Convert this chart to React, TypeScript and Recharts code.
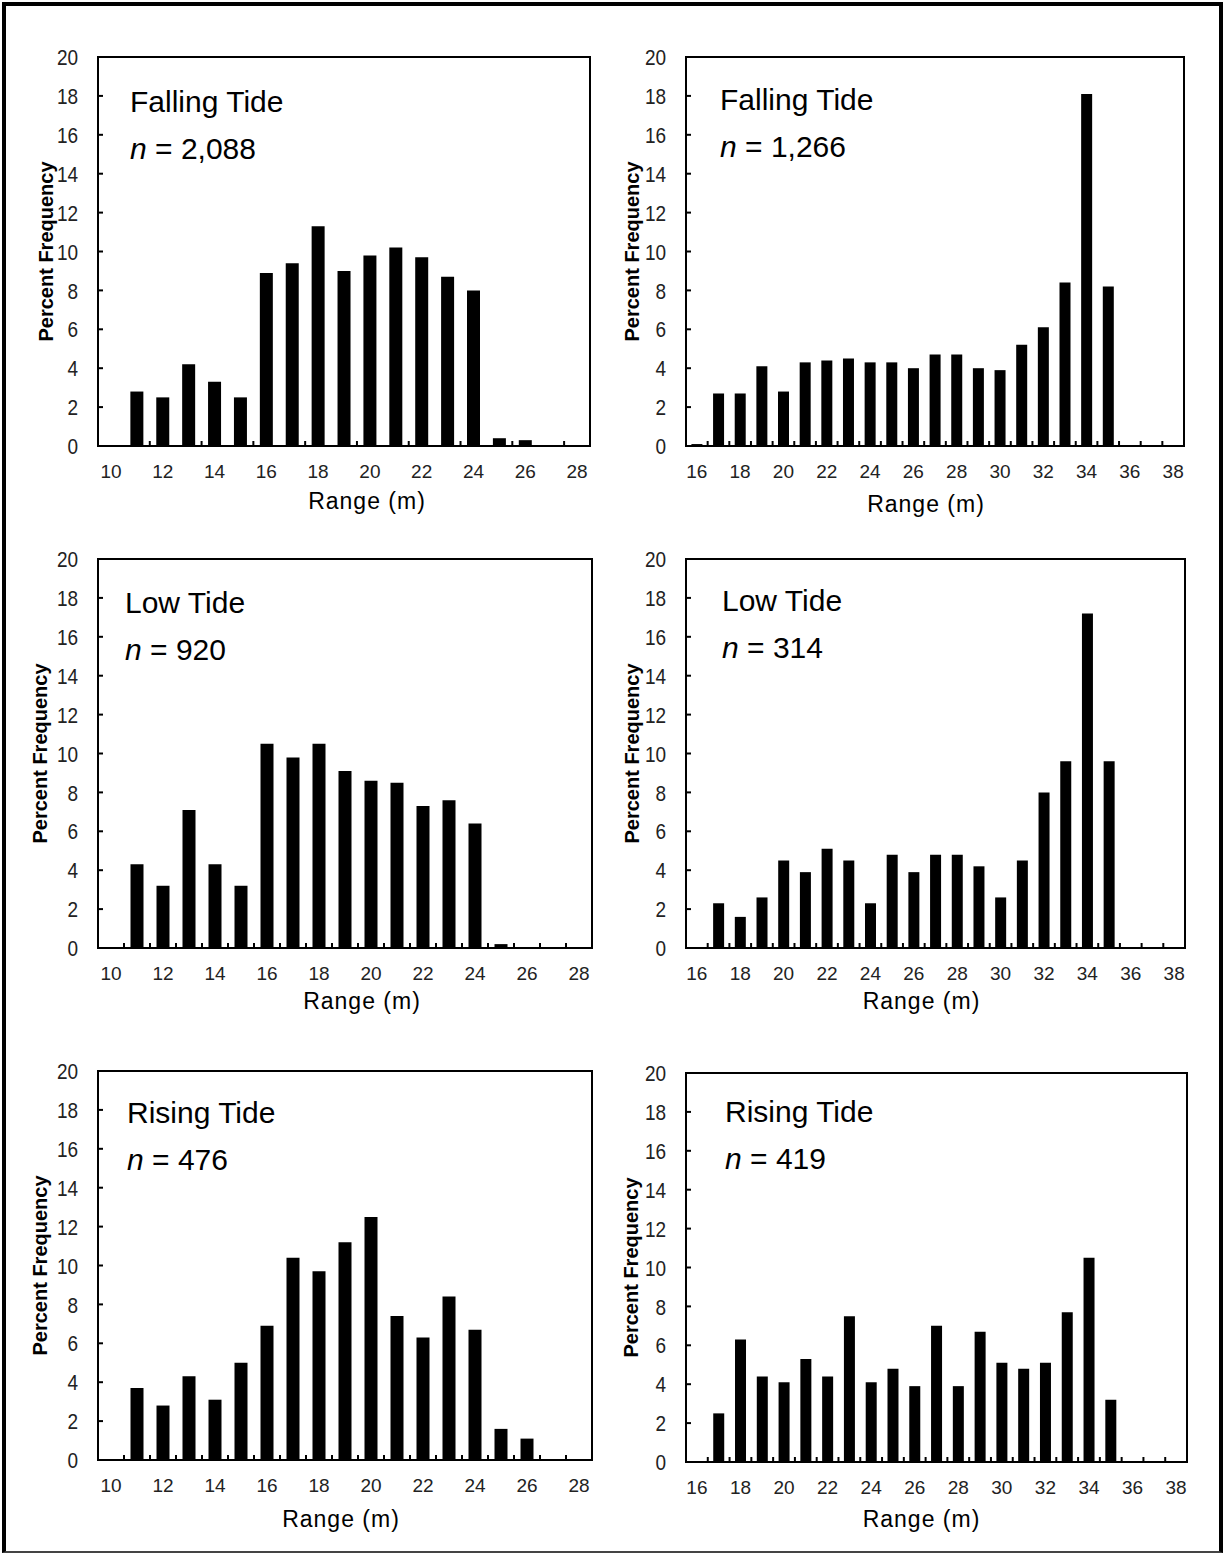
import { Bar, BarChart, ReferenceArea, XAxis, YAxis } from 'recharts';

const FONT = '"Liberation Sans", Arial, Helvetica, sans-serif';

// range bins (m) for the two sites
const nearBins = [10, 11, 12, 13, 14, 15, 16, 17, 18, 19, 20, 21, 22, 23, 24, 25, 26, 27, 28];
const farBins = [16, 17, 18, 19, 20, 21, 22, 23, 24, 25, 26, 27, 28, 29, 30, 31, 32, 33, 34, 35, 36, 37, 38];
const percentTicks = [0, 2, 4, 6, 8, 10, 12, 14, 16, 18, 20];

// percent frequency per bin
const fallingNear = [0, 2.8, 2.5, 4.2, 3.3, 2.5, 8.9, 9.4, 11.3, 9.0, 9.8, 10.2, 9.7, 8.7, 8.0, 0.4, 0.3, 0, 0];
const fallingFar = [0.1, 2.7, 2.7, 4.1, 2.8, 4.3, 4.4, 4.5, 4.3, 4.3, 4.0, 4.7, 4.7, 4.0, 3.9, 5.2, 6.1, 8.4, 18.1, 8.2, 0, 0, 0];
const lowNear = [0, 4.3, 3.2, 7.1, 4.3, 3.2, 10.5, 9.8, 10.5, 9.1, 8.6, 8.5, 7.3, 7.6, 6.4, 0.2, 0, 0, 0];
const lowFar = [0, 2.3, 1.6, 2.6, 4.5, 3.9, 5.1, 4.5, 2.3, 4.8, 3.9, 4.8, 4.8, 4.2, 2.6, 4.5, 8.0, 9.6, 17.2, 9.6, 0, 0, 0];
const risingNear = [0, 3.7, 2.8, 4.3, 3.1, 5.0, 6.9, 10.4, 9.7, 11.2, 12.5, 7.4, 6.3, 8.4, 6.7, 1.6, 1.1, 0, 0];
const risingFar = [0, 2.5, 6.3, 4.4, 4.1, 5.3, 4.4, 7.5, 4.1, 4.8, 3.9, 7.0, 3.9, 6.7, 5.1, 4.8, 5.1, 7.7, 10.5, 3.2, 0, 0, 0];

const PLOT_H = 389;
const MARGIN = { top: 12, right: 12, bottom: 0, left: 0 };
const X_AXIS_H = 80;

type PanelProps = {
  left: number;
  plotLeft: number;
  plotRight: number;
  plotTop: number;
  bins: number[];
  values: number[];
  tickStep: number;
  tide: string;
  count: string;
  textDx: number;
  textDy: number;
  yTitleGap: number;
  xTitleShift: number;
  xTitleDy: number;
};

function Panel(p: PanelProps) {
  const width = p.plotRight - p.left + MARGIN.right;
  const height = MARGIN.top + PLOT_H + X_AXIS_H;
  const data = p.bins.map((bin, i) => ({ bin, pct: p.values[i] }));
  const plotW = p.plotRight - p.plotLeft;
  const halfBand = plotW / p.bins.length / 2;
  const px = p.plotLeft - p.left;
  const py = MARGIN.top;

  // tick marks sit on bin edges and point into the plot; labels on even bins
  const renderXTick = (props: any) => {
    const { x, y, payload } = props;
    const value = Number(payload.value);
    const edge = x - halfBand;
    const mark = value > p.bins[0] && (value - p.bins[0]) % p.tickStep === 0;
    return (
      <g>
        {mark && <line x1={edge} x2={edge} y1={y} y2={y - 5} stroke="#000" strokeWidth={2} />}
        {value % 2 === 0 && (
          <text x={x} y={y + 25} textAnchor="middle" dominantBaseline="central" fontFamily={FONT} fontSize={19} fill="#222">
            {value}
          </text>
        )}
      </g>
    );
  };

  const renderYTick = (props: any) => {
    const { x, y, payload } = props;
    const value = Number(payload.value);
    return (
      <g>
        {value > 0 && value < 20 && <line x1={x} x2={x + 5} y1={y} y2={y} stroke="#000" strokeWidth={2} />}
        <text
          transform={`translate(${x - 20}, ${y}) scale(1, 1.2)`}
          textAnchor="end"
          dominantBaseline="central"
          fontFamily={FONT}
          fontSize={19}
          fill="#222"
        >
          {value}
        </text>
      </g>
    );
  };

  return (
    <div style={{ position: 'absolute', left: p.left, top: p.plotTop - MARGIN.top, width, height }}>
      <BarChart width={width} height={height} data={data} margin={MARGIN} barCategoryGap="25%">
        <XAxis
          dataKey="bin"
          interval={0}
          height={X_AXIS_H}
          tickSize={0}
          tickMargin={0}
          axisLine={false}
          tickLine={false}
          tick={renderXTick}
        />
        <YAxis
          type="number"
          domain={[0, 20]}
          ticks={percentTicks}
          allowDataOverflow
          width={px}
          tickSize={0}
          tickMargin={0}
          axisLine={false}
          tickLine={false}
          tick={renderYTick}
        />
        <ReferenceArea y1={0} y2={20} fill="none" fillOpacity={0} stroke="#000" strokeWidth={2} />
        <Bar dataKey="pct" fill="#000" isAnimationActive={false} />
      </BarChart>
      <svg
        width={width}
        height={height}
        style={{ position: 'absolute', left: 0, top: 0, overflow: 'visible', pointerEvents: 'none' }}
      >
        <text x={px + p.textDx} y={py + p.textDy} fontFamily={FONT} fontSize={30} fill="#000">
          {p.tide}
        </text>
        <text x={px + p.textDx} y={py + p.textDy + 47} fontFamily={FONT} fontSize={30} fill="#000">
          <tspan fontStyle="italic">n</tspan> = {p.count}
        </text>
        <text
          transform={`translate(${px - p.yTitleGap}, ${py + PLOT_H / 2}) rotate(-90)`}
          textAnchor="middle"
          dominantBaseline="central"
          fontFamily={FONT}
          fontSize={20}
          fontWeight="bold"
          fill="#000"
        >
          Percent Frequency
        </text>
        <text
          x={px + plotW / 2 + p.xTitleShift}
          y={py + PLOT_H + p.xTitleDy}
          textAnchor="middle"
          dominantBaseline="central"
          fontFamily={FONT}
          fontSize={23}
          letterSpacing={1}
          fill="#000"
        >
          Range (m)
        </text>
      </svg>
    </div>
  );
}

export default function App() {
  return (
    <div style={{ position: 'absolute', left: 0, top: 0, width: 1225, height: 1554, background: '#fff' }}>
      <div
        style={{
          position: 'absolute',
          left: 2,
          top: 2,
          width: 1221,
          height: 1551,
          boxSizing: 'border-box',
          borderLeft: '4px solid #000',
          borderTop: '4px solid #000',
          borderRight: '4px solid #000',
          borderBottom: '2px solid #444',
        }}
      />
      <Panel
        left={0} plotLeft={98} plotRight={590} plotTop={57}
        bins={nearBins} values={fallingNear} tickStep={2}
        tide="Falling Tide" count="2,088"
        textDx={32} textDy={55} yTitleGap={52} xTitleShift={23} xTitleDy={55}
      />
      <Panel
        left={600} plotLeft={686} plotRight={1184} plotTop={57}
        bins={farBins} values={fallingFar} tickStep={1}
        tide="Falling Tide" count="1,266"
        textDx={34} textDy={53} yTitleGap={54} xTitleShift={-9} xTitleDy={58}
      />
      <Panel
        left={0} plotLeft={98} plotRight={592} plotTop={559}
        bins={nearBins} values={lowNear} tickStep={1}
        tide="Low Tide" count="920"
        textDx={27} textDy={54} yTitleGap={58} xTitleShift={17} xTitleDy={53}
      />
      <Panel
        left={600} plotLeft={686} plotRight={1185} plotTop={559}
        bins={farBins} values={lowFar} tickStep={1}
        tide="Low Tide" count="314"
        textDx={36} textDy={52} yTitleGap={54} xTitleShift={-14} xTitleDy={53}
      />
      <Panel
        left={0} plotLeft={98} plotRight={592} plotTop={1071}
        bins={nearBins} values={risingNear} tickStep={1}
        tide="Rising Tide" count="476"
        textDx={29} textDy={52} yTitleGap={58} xTitleShift={-4} xTitleDy={59}
      />
      <Panel
        left={600} plotLeft={686} plotRight={1187} plotTop={1073}
        bins={farBins} values={risingFar} tickStep={1}
        tide="Rising Tide" count="419"
        textDx={39} textDy={49} yTitleGap={55} xTitleShift={-15} xTitleDy={57}
      />
    </div>
  );
}
